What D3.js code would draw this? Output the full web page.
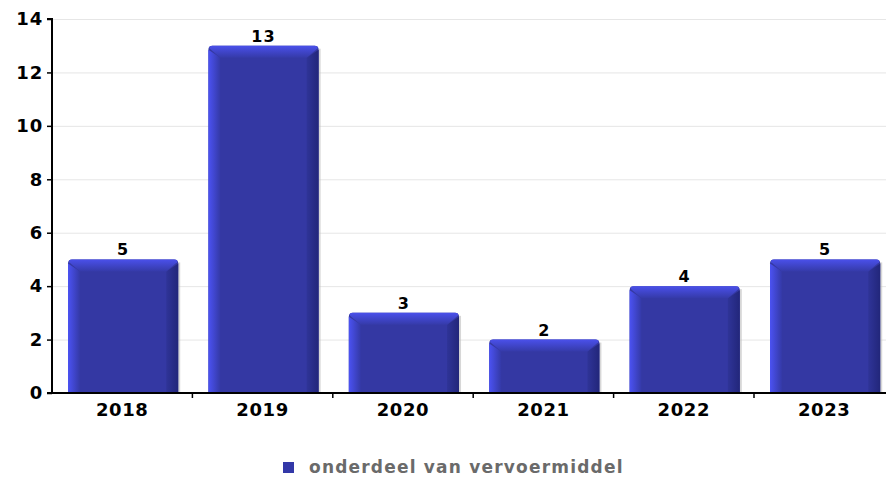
<!DOCTYPE html>
<html><head><meta charset="utf-8">
<script src="https://cdn.jsdelivr.net/npm/d3@7"></script>
<style>body{margin:0;background:#fff}svg{display:block;font-family:"DejaVu Sans",sans-serif}</style>
</head><body><svg id="c" width="886" height="478"></svg>
<script>
const categories = ["2018","2019","2020","2021","2022","2023"];
const values = [5,13,3,2,4,5];
const yTicks = [0,2,4,6,8,10,12,14];
const seriesName = "onderdeel van vervoermiddel";

(function(){
const svg = d3.select("#c");
const pLeft = 52, pTop = 19, pBottom = 393, pRight = 894.4;
const x = d3.scaleBand().domain(categories).range([pLeft, pRight]).paddingInner(0).paddingOuter(0);
const y = d3.scaleLinear().domain([0,14]).range([pBottom, pTop]);

const defs = svg.append("defs");
const gl = defs.append("linearGradient").attr("id","gl").attr("x1","0").attr("x2","1");
gl.append("stop").attr("offset","0").attr("stop-color","#4b52f2");
gl.append("stop").attr("offset","1").attr("stop-color","#3439a6");
const gr = defs.append("linearGradient").attr("id","gr").attr("x1","0").attr("x2","1");
gr.append("stop").attr("offset","0").attr("stop-color","#2f3498");
gr.append("stop").attr("offset","1").attr("stop-color","#22267a");
const gt = defs.append("linearGradient").attr("id","gt").attr("x1","0").attr("x2","0").attr("y1","0").attr("y2","1");
gt.append("stop").attr("offset","0").attr("stop-color","#4a50ea");
gt.append("stop").attr("offset","1").attr("stop-color","#353aa8");

svg.append("g").selectAll("line").data(yTicks.filter(d=>d>0)).join("line")
  .attr("x1", pLeft).attr("x2", 886).attr("y1", d=>y(d)+0.5).attr("y2", d=>y(d)+0.5)
  .attr("stroke","#e6e6e6").attr("stroke-width",1);

const bw = x.bandwidth();
const off = bw*0.114, w = bw*0.785, bev = 12, r = 4;
const g = svg.append("g").selectAll("g").data(categories).join("g");
g.each(function(c,i){
  const s = d3.select(this);
  const x0 = x(c)+off, x1 = x0+w, y0 = y(values[i]), y1 = y(0);
  s.append("rect").attr("x",x1-2).attr("y",y0+3).attr("width",4).attr("height",y1-y0-3).attr("fill","#bdbdbd").attr("opacity",0.6);
  s.append("path").attr("d",`M${x0},${y1}V${y0+r}Q${x0},${y0} ${x0+r},${y0}H${x1-r}Q${x1},${y0} ${x1},${y0+r}V${y1}Z`).attr("fill","#3438a3");
  s.append("path").attr("d",`M${x0},${y1}V${y0+r}L${x0+bev},${y0+bev}V${y1}Z`).attr("fill","url(#gl)");
  s.append("path").attr("d",`M${x1},${y1}V${y0+r}L${x1-bev},${y0+bev}V${y1}Z`).attr("fill","url(#gr)");
  s.append("path").attr("d",`M${x0+r*0.3},${y0+r*0.7}Q${x0},${y0} ${x0+r},${y0}H${x1-r}Q${x1},${y0} ${x1-r*0.3},${y0+r*0.7}L${x1-bev},${y0+bev}H${x0+bev}Z`).attr("fill","url(#gt)");
  s.append("text").attr("x",(x0+x1)/2).attr("y",y0-4).attr("text-anchor","middle")
    .attr("font-size",16).attr("letter-spacing",1.2).attr("font-weight","bold").attr("fill","#000").text(values[i]);
});

const ya = svg.append("g").attr("transform",`translate(${pLeft},0)`)
  .call(d3.axisLeft(y).tickValues(yTicks).tickSize(5).tickPadding(4).tickFormat(d3.format("d")));
ya.select(".domain").attr("stroke","#000").attr("stroke-width",2).attr("d",`M-5,${pTop}H0V${pBottom}`);
ya.selectAll(".tick line").attr("stroke","#000").attr("stroke-width",1.5);
ya.selectAll(".tick text").attr("font-size",18).attr("letter-spacing",0.8).attr("font-weight","bold").attr("fill","#000").attr("font-family","DejaVu Sans");

const xa = svg.append("g").attr("transform",`translate(0,${pBottom})`)
  .call(d3.axisBottom(x).tickSize(0).tickPadding(10));
xa.select(".domain").attr("stroke","#000").attr("stroke-width",2).attr("d",`M${pLeft-5},0H886`);
xa.selectAll(".tick text").attr("font-size",18).attr("letter-spacing",0.6).attr("font-weight","bold").attr("fill","#000").attr("font-family","DejaVu Sans");
svg.append("g").selectAll("line").data(categories.slice(1)).join("line")
  .attr("x1",d=>x(d)).attr("x2",d=>x(d)).attr("y1",pBottom).attr("y2",pBottom+5)
  .attr("stroke","#000").attr("stroke-width",1.5);

const lg = svg.append("g").attr("transform","translate(283,462)");
lg.append("rect").attr("width",11).attr("height",11).attr("fill","#3338a8");
lg.append("text").attr("x",26).attr("y",11).attr("font-size",17).attr("letter-spacing",1.2).attr("font-weight","bold").attr("fill","#6a6a6a").text(seriesName);
})();
</script></body></html>
